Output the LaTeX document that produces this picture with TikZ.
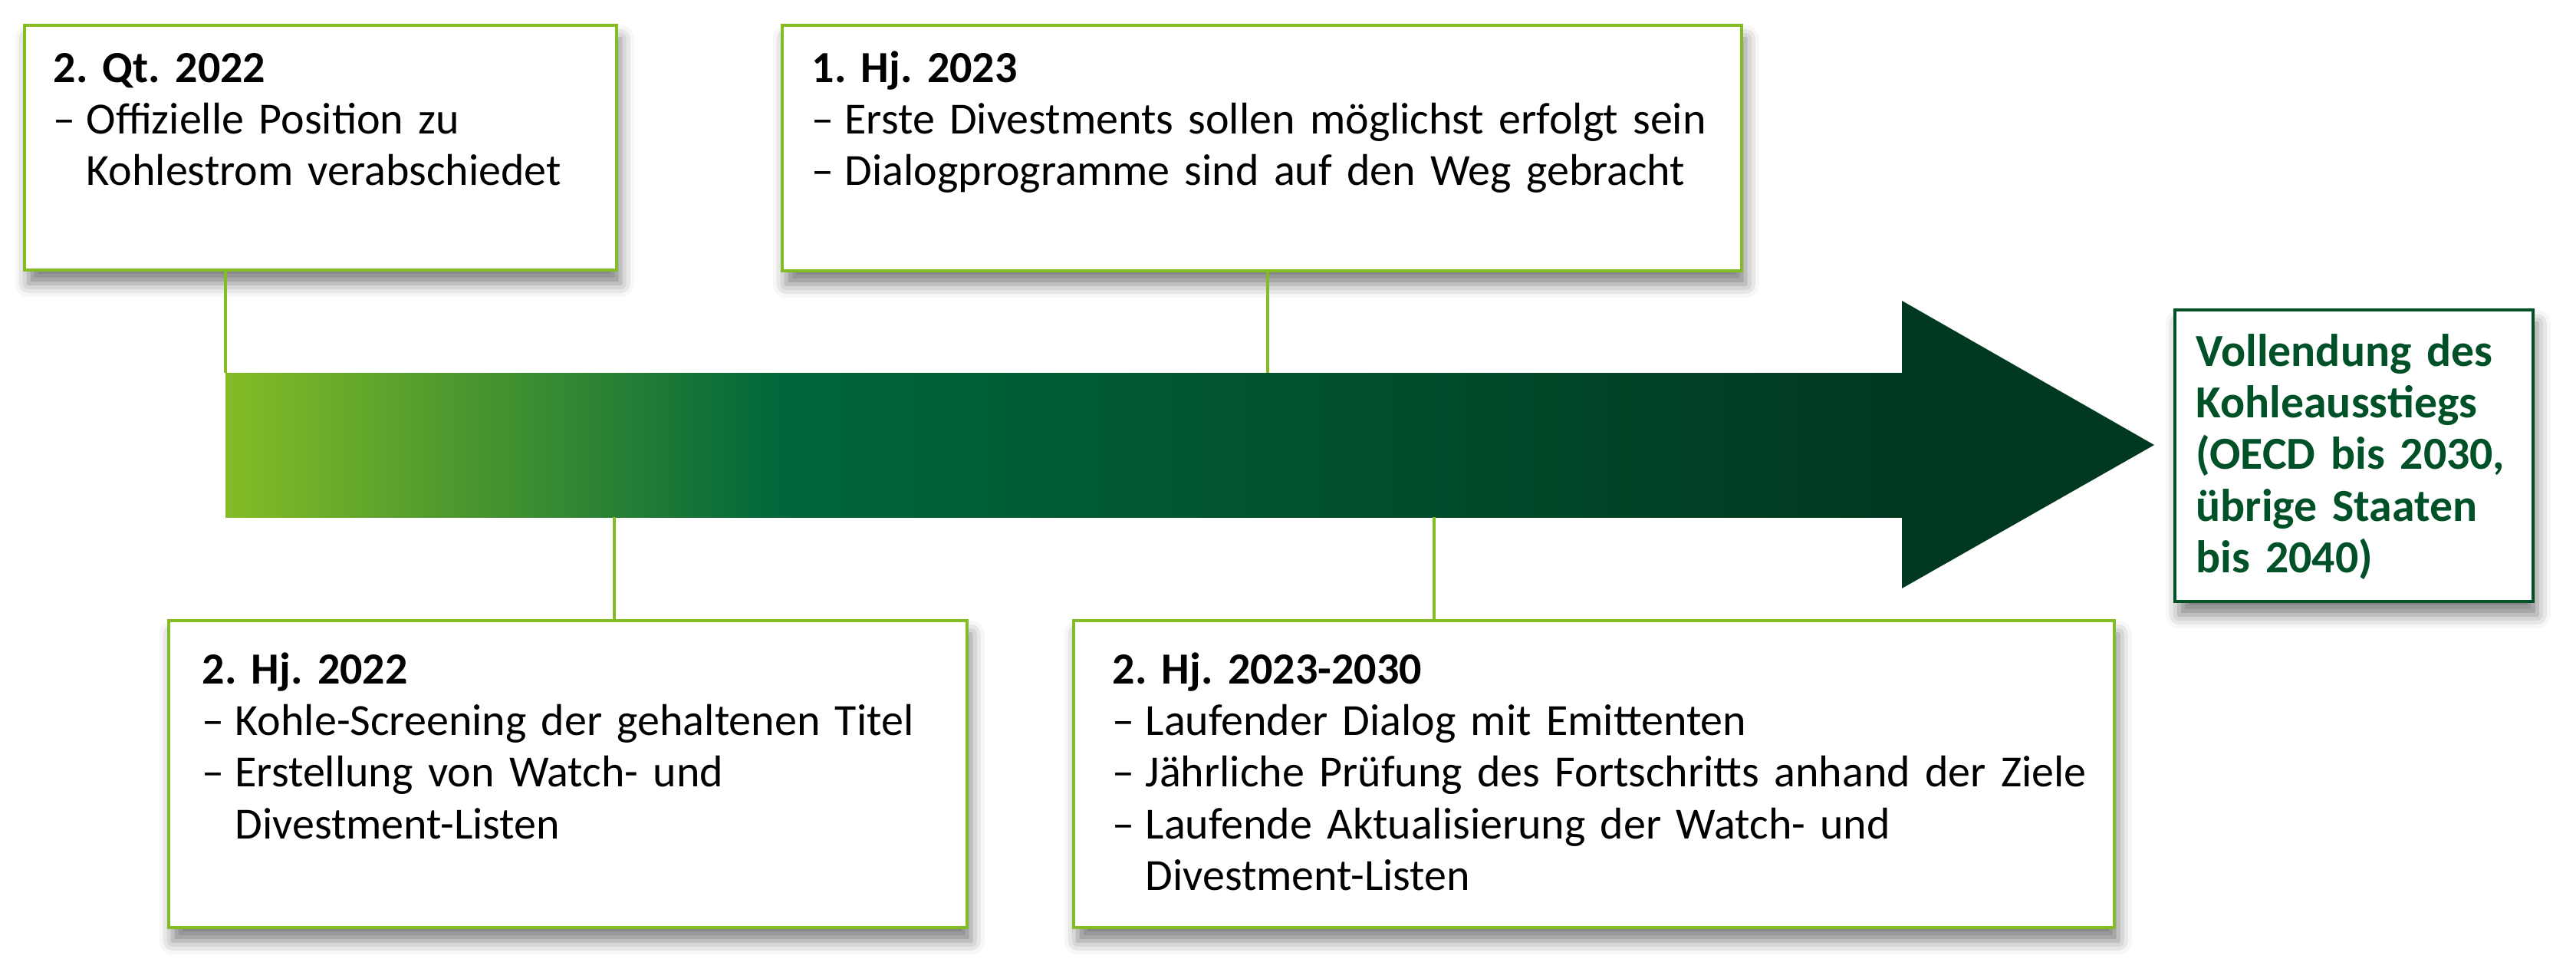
\documentclass[tikz,border=0pt]{standalone}
\usepackage{fontspec}
\setmainfont[WordSpace=0.9]{Carlito}
\usepackage{tikz}
\usetikzlibrary{shadows,shadows.blur}
\definecolor{lgreen}{RGB}{132,188,38}
\definecolor{mgreen}{RGB}{0,103,58}
\definecolor{dgreen}{RGB}{0,56,32}
\definecolor{zielgreen}{RGB}{0,80,40}
\pgfdeclarehorizontalshading{zeitstrahl}{100bp}{color(0bp)=(lgreen); color(25bp)=(lgreen); color(41.5bp)=(mgreen); color(75bp)=(dgreen); color(100bp)=(dgreen)}
\newcommand{\titel}[1]{{\bfseries #1}\par}
\newcommand{\strich}[1]{\par\hangindent=0.43cm\hangafter=1\noindent\makebox[0.43cm][l]{–}#1\par}

\begin{document}
\begin{tikzpicture}
    \tikzstyle{box}=[draw=lgreen, line width=1.1pt, fill=white, rectangle, anchor=north west, inner sep=0pt,
        blur shadow={shadow xshift=1.5pt, shadow yshift=-5pt, shadow blur radius=5pt, shadow opacity=50}]
    \tikzstyle{zielbox}=[box, draw=zielgreen]
    \tikzstyle{txt}=[anchor=base west, inner sep=0pt, text=black, font=\fontsize{16.5}{19.2}\selectfont\raggedright\frenchspacing]
    \tikzstyle{conn}=[draw=lgreen, line width=1pt]

    \useasboundingbox (0,0) rectangle (33.59,-12.67);

    % zeitstrahl
    \path[shading=zeitstrahl] (2.94,-4.86) rectangle (24.84,-6.74);
    \fill[dgreen] (24.80,-3.92) -- (28.09,-5.80) -- (24.80,-7.67) -- cycle;
    \coordinate (t1) at (2.94,-4.86);
    \coordinate (t2) at (16.53,-4.86);
    \coordinate (t3) at (8.01,-6.74);
    \coordinate (t4) at (18.70,-6.74);

    % kaesten
    \node[box, minimum width=7.72cm, minimum height=3.19cm] (qt22) at (0.30,-0.31) {};
    \node[box, minimum width=12.51cm, minimum height=3.20cm] (hj23) at (10.18,-0.31) {};
    \node[box, minimum width=10.41cm, minimum height=4.00cm] (hj22) at (2.18,-8.07) {};
    \node[box, minimum width=13.57cm, minimum height=4.00cm] (hj2330) at (13.98,-8.07) {};
    \node[zielbox, minimum width=4.67cm, minimum height=3.80cm] (ziel) at (28.34,-4.02) {};

    \node[txt, text width=7.7cm] (qt22txt) at (0.69,-1.07)
        {\titel{2. Qt. 2022}\strich{Offizielle Position zu\newline Kohlestrom verabschiedet}};
    \node[txt, text width=12.5cm] (hj23txt) at (10.58,-1.07)
        {\titel{1. Hj. 2023}\strich{Erste Divestments sollen möglichst erfolgt sein}\strich{Dialogprogramme sind auf den Weg gebracht}};
    \node[txt, text width=10.4cm] (hj22txt) at (2.63,-8.91)
        {\titel{2. Hj. 2022}\strich{Kohle-Screening der gehaltenen Titel}\strich{Erstellung von Watch- und\newline Divestment-Listen}};
    \node[txt, text width=13.5cm] (hj2330txt) at (14.50,-8.91)
        {\titel{2. Hj. 2023-2030}\strich{Laufender Dialog mit Emittenten}\strich{Jährliche Prüfung des Fortschritts anhand der Ziele}\strich{Laufende Aktualisierung der Watch- und\newline Divestment-Listen}};
    \node[txt, text width=4.6cm, text=zielgreen, font=\fontsize{17}{19.2}\selectfont\bfseries\raggedright] (zieltxt) at (28.63,-4.77)
        {Vollendung des\\ Kohleausstiegs\\ (OECD bis 2030,\\ übrige Staaten\\ bis 2040)};

    % verbindungen
    \draw[conn] (qt22.south -| t1) -- (t1);
    \draw[conn] (hj23.south -| t2) -- (t2);
    \draw[conn] (t3) -- (t3 |- hj22.north);
    \draw[conn] (t4) -- (t4 |- hj2330.north);
\end{tikzpicture}
\end{document}
